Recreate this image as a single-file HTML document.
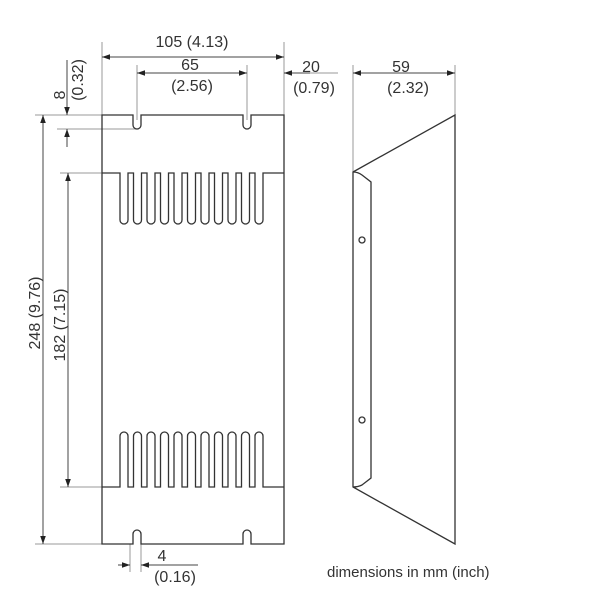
<!DOCTYPE html>
<html><head><style>body{margin:0;background:#fff}svg{display:block}text{font-family:"Liberation Sans",sans-serif;fill:#333}</style></head>
<body>
<svg width="610" height="610" viewBox="0 0 610 610" xmlns="http://www.w3.org/2000/svg">
<defs>
<marker id="a" viewBox="0 0 10 10" refX="10" refY="5" markerWidth="8" markerHeight="8" orient="auto-start-reverse" markerUnits="userSpaceOnUse"><path d="M0,1.5L10,5L0,8.5z" fill="#222"/></marker>
</defs>
<g fill="none" stroke="#999" stroke-width="1">
<line x1="102" y1="42" x2="102" y2="115"/>
<line x1="284" y1="42" x2="284" y2="115"/>
<line x1="137" y1="65" x2="137" y2="120"/>
<line x1="247" y1="65" x2="247" y2="120"/>
<line x1="284" y1="73" x2="338" y2="73"/>
<line x1="35" y1="115" x2="102" y2="115"/>
<line x1="35" y1="544" x2="102" y2="544"/>
<line x1="57" y1="129" x2="137" y2="129"/>
<line x1="60" y1="173" x2="102" y2="173"/>
<line x1="60" y1="487" x2="102" y2="487"/>
<line x1="130" y1="544" x2="130" y2="572"/>
<line x1="141" y1="544" x2="141" y2="572"/>
<line x1="353" y1="65" x2="353" y2="172"/>
<line x1="455" y1="65" x2="455" y2="115"/>
</g>
<g stroke="#444" stroke-width="1" fill="none">
<line x1="102" y1="57" x2="284" y2="57" marker-start="url(#a)" marker-end="url(#a)"/>
<line x1="137" y1="73" x2="247" y2="73" marker-start="url(#a)" marker-end="url(#a)"/>
<line x1="310" y1="73" x2="284" y2="73" marker-end="url(#a)"/>
<line x1="353" y1="73" x2="455" y2="73" marker-start="url(#a)" marker-end="url(#a)"/>
<line x1="43" y1="115" x2="43" y2="544" marker-start="url(#a)" marker-end="url(#a)"/>
<line x1="68" y1="173" x2="68" y2="487" marker-start="url(#a)" marker-end="url(#a)"/>
<line x1="67" y1="60" x2="67" y2="115" marker-end="url(#a)"/>
<line x1="67" y1="147" x2="67" y2="129" marker-end="url(#a)"/>
<line x1="118" y1="565" x2="130" y2="565" marker-end="url(#a)"/>
<line x1="198" y1="565" x2="141" y2="565" marker-end="url(#a)"/>
</g>
<g stroke="#333" stroke-width="1.3" fill="none">
<path d="M102,115 H133 V125 A4,4 0 0 0 141,125 V115 H243 V125 A4,4 0 0 0 251,125 V115 H284 V544 H251 V534 A4,4 0 0 0 243,534 V544 H141 V534 A4,4 0 0 0 133,534 V544 H102 Z"/>
<path d="M102,173 H120 V220 a4,4 0 0 0 8,0 V173 H133.5 V220 a4,4 0 0 0 8,0 V173 H147 V220 a4,4 0 0 0 8,0 V173 H160.5 V220 a4,4 0 0 0 8,0 V173 H174 V220 a4,4 0 0 0 8,0 V173 H187.5 V220 a4,4 0 0 0 8,0 V173 H201 V220 a4,4 0 0 0 8,0 V173 H214.5 V220 a4,4 0 0 0 8,0 V173 H228 V220 a4,4 0 0 0 8,0 V173 H241.5 V220 a4,4 0 0 0 8,0 V173 H255 V220 a4,4 0 0 0 8,0 V173 H284"/>
<path d="M102,487 H120 V436 a4,4 0 0 1 8,0 V487 H133.5 V436 a4,4 0 0 1 8,0 V487 H147 V436 a4,4 0 0 1 8,0 V487 H160.5 V436 a4,4 0 0 1 8,0 V487 H174 V436 a4,4 0 0 1 8,0 V487 H187.5 V436 a4,4 0 0 1 8,0 V487 H201 V436 a4,4 0 0 1 8,0 V487 H214.5 V436 a4,4 0 0 1 8,0 V487 H228 V436 a4,4 0 0 1 8,0 V487 H241.5 V436 a4,4 0 0 1 8,0 V487 H255 V436 a4,4 0 0 1 8,0 V487 H284"/>
<path d="M353,172 L455,115 V544 L353,487 Z"/>
<path d="M353,172 Q358,172 362,175 L371,182 V478 L362,485 Q358,487 353,487"/>
<circle cx="362" cy="240" r="3"/>
<circle cx="362" cy="420" r="3"/>
</g>
<g font-size="16">
<text x="192" y="47" text-anchor="middle">105 (4.13)</text>
<text x="190" y="70" text-anchor="middle">65</text>
<text x="192" y="91" text-anchor="middle">(2.56)</text>
<text x="311" y="72" text-anchor="middle">20</text>
<text x="314" y="93" text-anchor="middle">(0.79)</text>
<text x="401" y="72" text-anchor="middle">59</text>
<text x="408" y="93" text-anchor="middle">(2.32)</text>
<text x="162" y="561" text-anchor="middle">4</text>
<text x="175" y="582" text-anchor="middle">(0.16)</text>
<text transform="translate(65,95) rotate(-90)" text-anchor="middle">8</text>
<text transform="translate(83,80) rotate(-90)" text-anchor="middle">(0.32)</text>
<text transform="translate(40,313) rotate(-90)" text-anchor="middle">248 (9.76)</text>
<text transform="translate(65,325) rotate(-90)" text-anchor="middle">182 (7.15)</text>
<text x="327" y="577" font-size="15">dimensions in mm (inch)</text>
</g>
</svg>
</body></html>
